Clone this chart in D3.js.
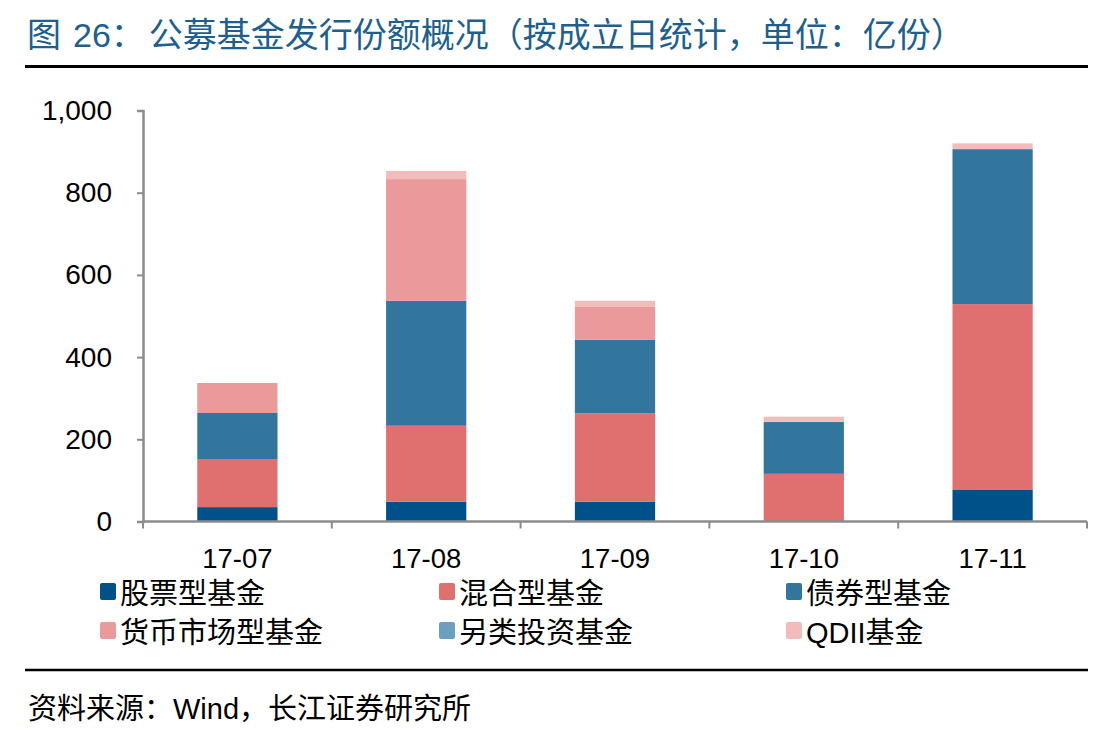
<!DOCTYPE html>
<html><head><meta charset="utf-8">
<script src="https://cdn.jsdelivr.net/npm/d3@7/dist/d3.min.js"></script>
<style>body{margin:0;background:#fff}svg{display:block}</style>
</head><body>
<svg id="c" width="1109" height="730"></svg>
<script>
const categories = ["17-07","17-08","17-09","17-10","17-11"];
const seriesNames = ["股票型基金","混合型基金","债券型基金","货币市场型基金","另类投资基金","QDII基金"];
const stockFund = [35, 48, 48, 0, 78];
const mixedFund = [117, 185, 215, 116, 451];
const bondFund = [112, 304, 179, 126, 377];
const moneyFund = [73, 296, 80, 0, 0];
const altFund = [0, 0, 0, 0, 0];
const qdiiFund = [0, 20, 15, 13, 14];
const yTicks = [0, 200, 400, 600, 800, 1000];
const colors = ["#005189","#E07070","#32769E","#EA9A9A","#6A9FC0","#F2BCBC"];

const FONT = "'Liberation Sans', Arial, 'Noto Sans CJK SC', sans-serif";
const svg = d3.select("#c");
const seriesVals = [stockFund, mixedFund, bondFund, moneyFund, altFund, qdiiFund];
const rows = categories.map((c, i) => {
  const r = {cat: c};
  seriesNames.forEach((s, j) => r[s] = seriesVals[j][i]);
  return r;
});
const stacked = d3.stack().keys(seriesNames)(rows);

const x = d3.scaleBand().domain(categories).range([143, 1087]).paddingInner(0.575).paddingOuter(0.2875);
const y = d3.scaleLinear().domain([0, 1000]).range([521.5, 110.5]);

// title
const t = svg.append("text").attr("x", 27).attr("y", 47).attr("fill", "#1E5F8E")
  .attr("font-family", FONT).attr("font-size", 34);
t.append("tspan").text("图");
t.append("tspan").attr("dx", 12).text("26：");
t.append("tspan").attr("dx", 4).text("公募基金发行份额概况（按成立日统计，单位：亿份）");
svg.append("line").attr("x1", 25).attr("x2", 1088).attr("y1", 66.5).attr("y2", 66.5)
  .attr("stroke", "#000").attr("stroke-width", 3);

// bars
svg.append("g").selectAll("g").data(stacked).join("g")
  .attr("fill", (d, i) => colors[i])
  .selectAll("rect").data(d => d).join("rect")
  .attr("x", d => x(d.data.cat))
  .attr("width", x.bandwidth())
  .attr("y", d => y(d[1]))
  .attr("height", d => y(d[0]) - y(d[1]));

// y axis
const ya = svg.append("g").attr("transform", "translate(143,0)")
  .call(d3.axisLeft(y).tickValues(yTicks).tickSize(6).tickPadding(25).tickFormat(d3.format(",")));
ya.select(".domain").attr("stroke", "#8c8c8c").attr("stroke-width", 2.5);
ya.selectAll(".tick line").attr("stroke", "#8c8c8c").attr("stroke-width", 2);
ya.selectAll("text").attr("font-family", FONT).attr("font-size", 28).attr("fill", "#000");

// x axis
const xa = svg.append("g").attr("transform", "translate(0,521.5)");
xa.append("line").attr("x1", 143).attr("x2", 1087).attr("stroke", "#8c8c8c").attr("stroke-width", 2.5);
const bounds = d3.range(categories.length + 1).map(i => 143 + i * (944 / categories.length));
xa.selectAll("line.tk").data(bounds).join("line").attr("class", "tk")
  .attr("x1", d => d).attr("x2", d => d).attr("y1", 0).attr("y2", 7)
  .attr("stroke", "#8c8c8c").attr("stroke-width", 2);
xa.selectAll("text").data(categories).join("text")
  .attr("x", d => x(d) + x.bandwidth() / 2).attr("y", 46)
  .attr("text-anchor", "middle").attr("font-family", FONT).attr("font-size", 27.5).attr("fill", "#000")
  .text(d => d);

// legend
const legX = [100, 439, 786];
const legY = [592, 631];
const lg = svg.append("g");
seriesNames.forEach((s, i) => {
  const cx = legX[i % 3], cy = legY[Math.floor(i / 3)];
  lg.append("rect").attr("x", cx).attr("y", cy - 9).attr("width", 16).attr("height", 17)
    .attr("rx", 2).attr("fill", colors[i]);
  lg.append("text").attr("x", cx + 20).attr("y", cy + 12)
    .attr("font-family", FONT).attr("font-size", 29).attr("fill", "#000").text(s);
});

// bottom rule and source
svg.append("line").attr("x1", 25).attr("x2", 1088).attr("y1", 670).attr("y2", 670)
  .attr("stroke", "#000").attr("stroke-width", 2.5);
svg.append("text").attr("x", 28).attr("y", 719).attr("font-family", FONT).attr("font-size", 29)
  .attr("fill", "#000").text("资料来源：Wind，长江证券研究所");
</script>
</body></html>
